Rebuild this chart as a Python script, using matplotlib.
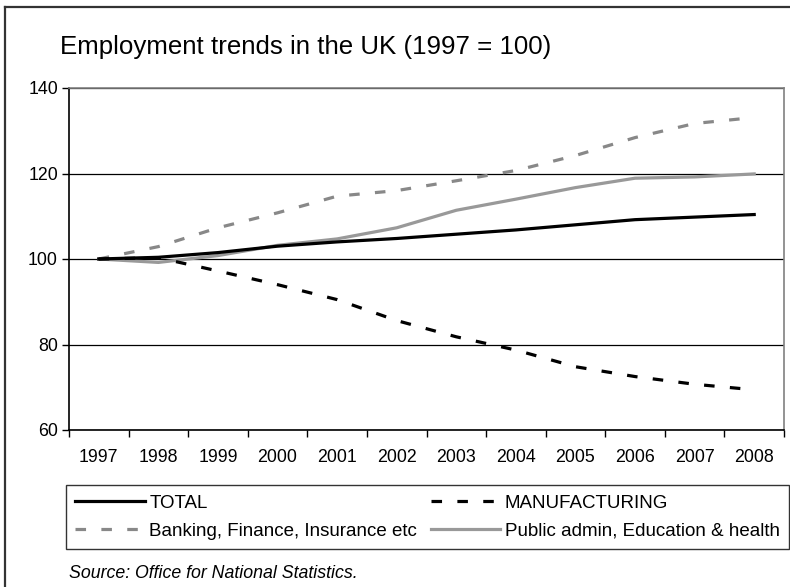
import matplotlib
matplotlib.use("Agg")
import matplotlib.pyplot as plt
from matplotlib.lines import Line2D
import numpy as np

plt.rcParams['font.family'] = ['Liberation Sans', 'DejaVu Sans']

# Employment index, 1997 = 100
years = ['1997', '1998', '1999', '2000', '2001', '2002',
         '2003', '2004', '2005', '2006', '2007', '2008']
total = [100, 100.4, 101.5, 103.0, 104.0, 104.8, 105.8, 106.8, 108.0, 109.2, 109.8, 110.4]
manufacturing = [100, 100.3, 97.2, 94.0, 90.5, 85.6, 81.8, 78.7, 74.8, 72.5, 70.7, 69.4]
banking = [100, 102.9, 107.3, 110.8, 114.7, 116.0, 118.3, 120.7, 124.2, 128.4, 131.7, 133.1]
public_admin = [100, 99.2, 100.8, 103.2, 104.7, 107.3, 111.4, 114.0, 116.7, 118.9, 119.2, 119.9]

W, H = 790, 587
fig = plt.figure(figsize=(W / 100, H / 100), dpi=100)

# plot area in pixel terms
left, right, top, bottom = 69, 784, 88, 430
ax = fig.add_axes([left / W, 1 - bottom / H, (right - left) / W, (bottom - top) / H])

x = np.arange(len(years))
ax.plot(x, total, color='black', lw=2.3, label='TOTAL', zorder=4)
ax.plot(x, manufacturing, color='black', lw=2.3, dashes=(3.3, 4.8), label='MANUFACTURING', zorder=4)
ax.plot(x, banking, color='#888888', lw=2.3, dashes=(3.3, 4.8),
        label='Banking, Finance, Insurance etc', zorder=3)
ax.plot(x, public_admin, color='#999999', lw=2.3,
        label='Public admin, Education & health', zorder=3)

ax.set_xlim(-0.5, len(years) - 0.5)
ax.set_ylim(60, 140)
ax.set_yticks([60, 80, 100, 120, 140])
ax.set_xticks(np.arange(len(years) + 1) - 0.5)
ax.set_xticklabels([])
ax.set_xticks(x, minor=True)
ax.set_xticklabels(years, minor=True)
ax.tick_params(axis='x', which='minor', length=0, labelsize=12.8, pad=14)
ax.tick_params(axis='x', which='major', direction='out', length=5, width=1)
ax.tick_params(axis='y', direction='out', length=5, width=1, labelsize=12.8, pad=3)

ax.yaxis.grid(True, color='black', lw=0.9)
ax.set_axisbelow(True)
for s in ['top', 'right']:
    ax.spines[s].set_color('#808080')
    ax.spines[s].set_linewidth(1.2)
for s in ['left', 'bottom']:
    ax.spines[s].set_color('black')
    ax.spines[s].set_linewidth(1.2)

# legend across the bottom, two columns
handles, labels = ax.get_legend_handles_labels()
order = [0, 2, 1, 3]
lx0, lx1, ly0 = 66, 789, 485
leg = fig.legend([handles[i] for i in order], [labels[i] for i in order],
                 ncol=2, mode='expand', loc='upper left',
                 bbox_to_anchor=(lx0 / W, 0, (lx1 - lx0) / W, 1 - ly0 / H),
                 fontsize=13.5, handlelength=3.7, handletextpad=0.25,
                 borderpad=0.5, labelspacing=0.6, borderaxespad=0,
                 fancybox=False, frameon=True)
leg.get_frame().set_edgecolor('black')
leg.get_frame().set_linewidth(1.0)

fig.text(60 / W, 1 - 47 / H, 'Employment trends in the UK (1997 = 100)',
         fontsize=18.6, va='center', ha='left')
fig.text(69 / W, 1 - 573 / H, 'Source: Office for National Statistics.',
         fontsize=12.8, style='italic', va='center', ha='left')

# outer chart border (top and left edges visible)
fig.add_artist(Line2D([5 / W, 5 / W], [0, 1 - 7 / H], color='#333333', lw=1.6))
fig.add_artist(Line2D([5 / W, 1], [1 - 7 / H, 1 - 7 / H], color='#333333', lw=1.6))

fig.savefig('out.png', dpi=100)
